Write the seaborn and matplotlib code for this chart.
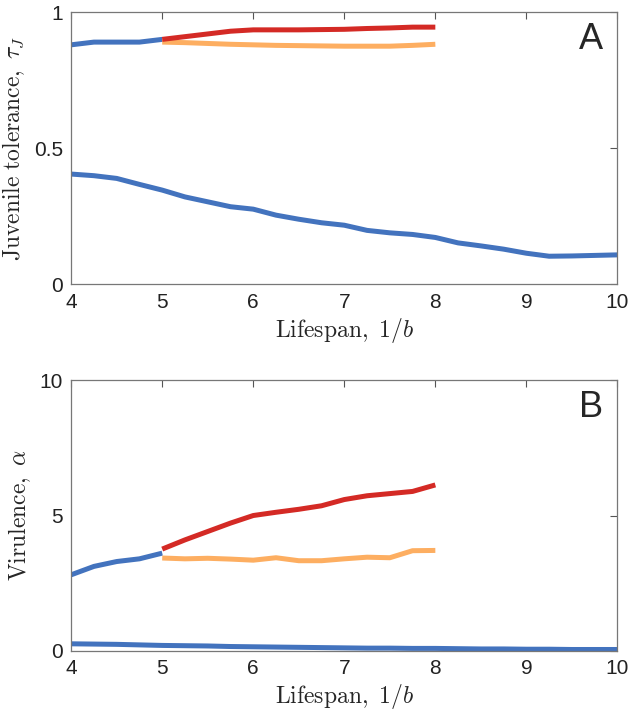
import numpy as np
import pandas as pd
import seaborn as sns
import matplotlib.pyplot as plt

# lifespan grids
x_low = [4.0, 4.25, 4.5, 4.75, 5.0]
x_mid = [5.0, 5.25, 5.5, 5.75, 6.0, 6.25, 6.5, 6.75, 7.0, 7.25, 7.5, 7.75, 8.0]
x_all = [4.0, 4.25, 4.5, 4.75, 5.0, 5.25, 5.5, 5.75, 6.0, 6.25, 6.5, 6.75, 7.0,
         7.25, 7.5, 7.75, 8.0, 8.25, 8.5, 8.75, 9.0, 9.25, 9.5, 9.75, 10.0]

# panel A: juvenile tolerance
tol_blue_high = [0.88, 0.89, 0.89, 0.89, 0.90]
tol_red = [0.90, 0.91, 0.92, 0.93, 0.935, 0.935, 0.935, 0.936, 0.937, 0.94, 0.942, 0.945, 0.945]
tol_orange = [0.89, 0.888, 0.885, 0.882, 0.88, 0.878, 0.877, 0.876, 0.875, 0.875, 0.875, 0.878, 0.882]
tol_blue_low = [0.405, 0.399, 0.389, 0.367, 0.346, 0.321, 0.303, 0.285, 0.276, 0.254, 0.239,
                0.226, 0.217, 0.198, 0.189, 0.183, 0.172, 0.152, 0.141, 0.129, 0.114, 0.103,
                0.104, 0.106, 0.108]

# panel B: virulence
vir_blue_high = [2.81, 3.12, 3.30, 3.40, 3.61]
vir_red = [3.76, 4.10, 4.41, 4.72, 5.00, 5.12, 5.23, 5.36, 5.59, 5.73, 5.81, 5.89, 6.13]
vir_orange = [3.43, 3.40, 3.42, 3.39, 3.35, 3.44, 3.33, 3.33, 3.40, 3.46, 3.44, 3.70, 3.71]
vir_blue_low = [0.26, 0.25, 0.24, 0.22, 0.20, 0.19, 0.18, 0.16, 0.15, 0.14, 0.13, 0.12, 0.11,
                0.10, 0.10, 0.09, 0.09, 0.08, 0.07, 0.07, 0.06, 0.06, 0.05, 0.05, 0.05]

blue = "#4373BE"
red = "#D42A25"
orange = "#FDAE61"

sns.set_style("white")
plt.rcParams["font.family"] = ["Liberation Sans", "DejaVu Sans"]
plt.rcParams["mathtext.fontset"] = "cm"

fig = plt.figure(figsize=(6.3, 7.16), dpi=100)
axA = fig.add_axes([0.113, 0.603, 0.867, 0.380])
axB = fig.add_axes([0.113, 0.091, 0.867, 0.378])


def draw(ax, series):
    for xs, ys, col in series:
        sns.lineplot(x=xs, y=ys, color=col, linewidth=3.6, ax=ax,
                     solid_capstyle="butt", estimator=None, sort=False)


draw(axA, [(x_all, tol_blue_low, blue), (x_low, tol_blue_high, blue),
           (x_mid, tol_orange, orange), (x_mid, tol_red, red)])
draw(axB, [(x_all, vir_blue_low, blue), (x_low, vir_blue_high, blue),
           (x_mid, vir_orange, orange), (x_mid, vir_red, red)])

for ax, ylim, yt, ylab, letter in [
        (axA, (0, 1), [0, 0.5, 1], r"$\mathrm{Juvenile\ tolerance,}\ \tau_J$", "A"),
        (axB, (0, 10), [0, 5, 10], r"$\mathrm{Virulence,}\ \alpha$", "B")]:
    ax.set_xlim(4, 10)
    ax.set_ylim(*ylim)
    ax.set_xticks(range(4, 11))
    ax.set_yticks(yt)
    ax.set_yticklabels([f"{v:g}" for v in yt])
    ax.tick_params(direction="in", length=5, width=0.8, color="#555555",
                   labelsize=15, labelcolor="#222222", top=True, right=True, pad=6)
    for s in ax.spines.values():
        s.set_color("#777777")
        s.set_linewidth(0.9)
    ax.set_xlabel(r"$\mathrm{Lifespan,}\ 1/b$", fontsize=17, labelpad=3)
    ax.set_ylabel(ylab, fontsize=17, labelpad=5)
    ax.text(0.974, 0.90, letter, transform=ax.transAxes, ha="right", va="center",
            fontsize=26)

fig.savefig("out.png", dpi=100)
